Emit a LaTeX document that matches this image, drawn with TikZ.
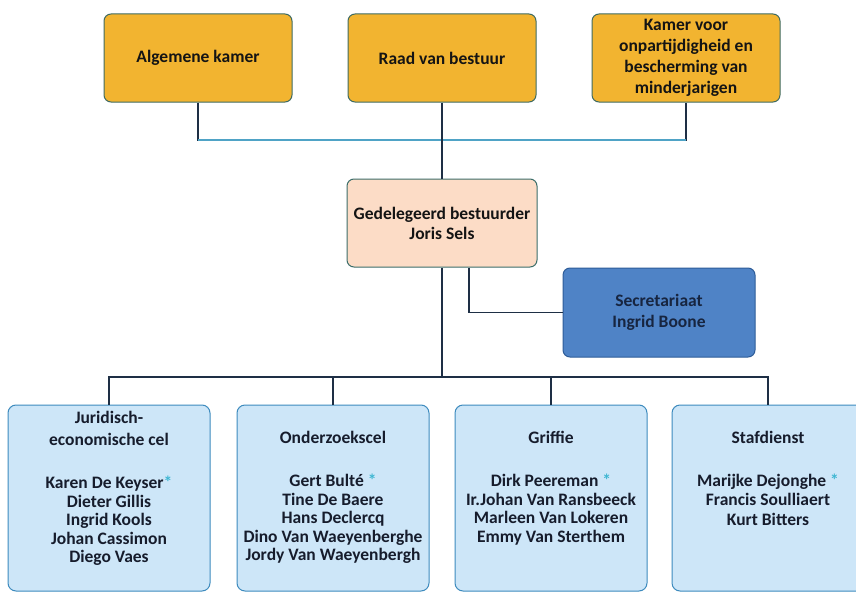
\documentclass[tikz,border=0pt]{standalone}
\usepackage{fontspec}
\setmainfont{Carlito}

\definecolor{gold}{HTML}{F2B430}
\definecolor{goldline}{HTML}{3F6B62}
\definecolor{peach}{HTML}{FCDCC6}
\definecolor{peachline}{HTML}{3C6E6A}
\definecolor{secfill}{HTML}{4F83C6}
\definecolor{secline}{HTML}{2E5C98}
\definecolor{sectext}{HTML}{172540}
\definecolor{cellfill}{HTML}{CDE6F8}
\definecolor{cellline}{HTML}{3E8BBE}
\definecolor{celltext}{HTML}{161C2C}
\definecolor{linkc}{HTML}{1E2F45}
\definecolor{busc}{HTML}{4FA3C6}
\definecolor{ast}{HTML}{3DB6D2}

\begin{document}
\begin{tikzpicture}[x=1pt, y=-1pt,
    box/.style={draw=goldline, line width=1pt, rounded corners=7pt, align=center,
        inner sep=2pt, text=black!92, font=\bfseries\fontsize{17.5}{21}\selectfont},
    board/.style={box, fill=gold, minimum width=188pt, minimum height=88pt},
    cell/.style={draw=cellline, fill=cellfill, line width=1pt, rounded corners=8pt,
        minimum width=192pt, minimum height=186pt, inner sep=0pt, text=celltext,
        font=\bfseries\fontsize{17.5}{18.5}\selectfont},
    link/.style={draw=linkc, line width=1.3pt},
    buslink/.style={draw=busc, line width=1.8pt}]

    \path[use as bounding box, fill=white] (0,0) rectangle (856,594);

    % bestuursorganen
    \node[board] (alg) at (198,58) {Algemene kamer};
    \node[board] (raad) at (442,58) {Raad van bestuur};
    \node[board] (kam) at (686,58) {Kamer voor\\onpartijdigheid en\\bescherming van\\minderjarigen};

    \node[box, fill=peach, draw=peachline, minimum width=190pt, minimum height=88pt,
        font=\bfseries\fontsize{17.5}{20}\selectfont] (ged) at (442,223) {Gedelegeerd bestuurder\\Joris Sels};
    \node[box, fill=secfill, draw=secline, text=sectext, minimum width=192pt, minimum height=89pt,
        font=\bfseries\fontsize{17.5}{21}\selectfont] (sec) at (659,312.5) {Secretariaat\\Ingrid Boone};

    % diensten
    \node[cell, minimum width=202pt] (jur) at (109,498) {\parbox[t][186pt][t]{200pt}{\centering
        \vspace*{6.6pt}\rule{0pt}{12pt}Juridisch-\\[3.5pt]economische cel\\[24.5pt]
        Karen De Keyser{\color{ast}*}\\Dieter Gillis\\Ingrid Kools\\Johan Cassimon\\Diego Vaes}};
    \node[cell] (ond) at (333,498) {\parbox[t][186pt][t]{190pt}{\centering
        \vspace*{26.6pt}\rule{0pt}{12pt}Onderzoekscel\\[24.5pt]
        Gert Bulté {\color{ast}*}\\Tine De Baere\\Hans Declercq\\Dino Van Waeyenberghe\\Jordy Van Waeyenbergh}};
    \node[cell] (grif) at (551,498) {\parbox[t][186pt][t]{190pt}{\centering
        \vspace*{26.6pt}\rule{0pt}{12pt}Griffie\\[24.5pt]
        Dirk Peereman {\color{ast}*}\\Ir.Johan Van Ransbeeck\\Marleen Van Lokeren\\Emmy Van Sterthem}};
    \node[cell] (staf) at (768,498) {\parbox[t][186pt][t]{190pt}{\centering
        \vspace*{26.6pt}\rule{0pt}{12pt}Stafdienst\\[24.5pt]
        Marijke Dejonghe {\color{ast}*}\\Francis Soulliaert\\[1.5pt]Kurt Bitters}};

    \coordinate (top) at (442,140);
    \coordinate (bus) at (442,377);

    \draw[link] (alg.south) |- (top) -| (kam.south);
    \draw[buslink] (alg.south |- top) -- (kam.south |- top);
    \draw[link] (raad.south) -- (ged.north);
    \draw[link] ([xshift=27pt]ged.south) |- (sec.west);
    \draw[link] (ged.south) -- (bus);
    \draw[link] (jur.north) |- (bus) -| (staf.north);
    \foreach \n in {ond,grif}
        \draw[link] (\n.north) -- (\n.north |- bus);
\end{tikzpicture}
\end{document}
